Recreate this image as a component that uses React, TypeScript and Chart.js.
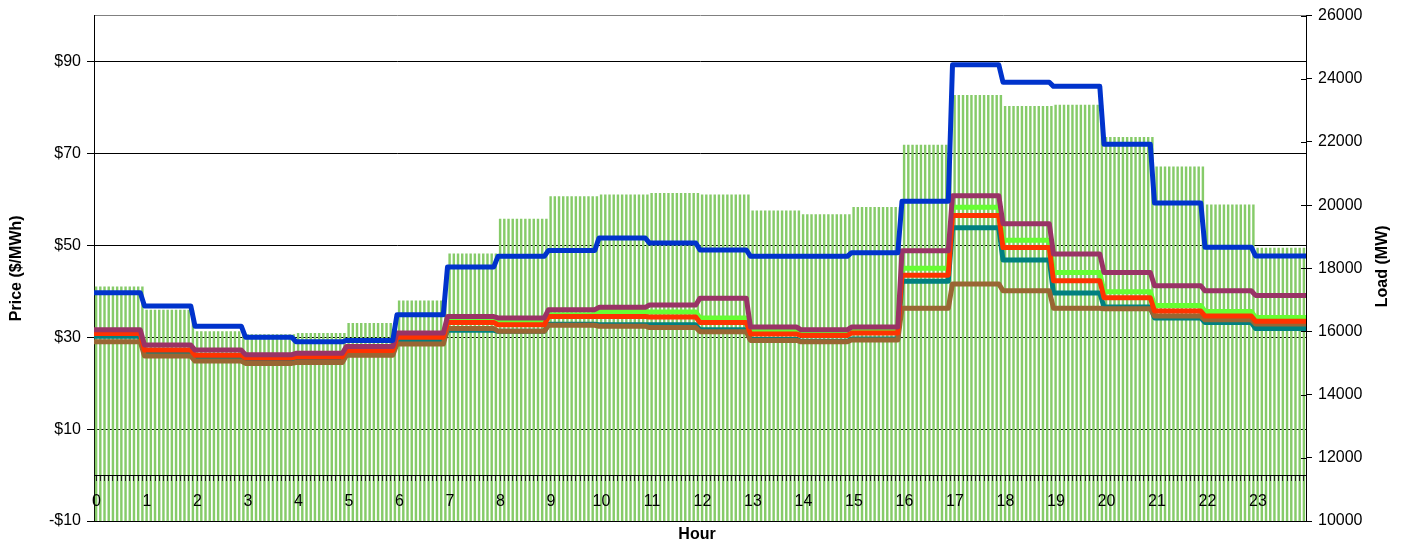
import React, { useEffect, useRef } from 'react';
import { Chart, registerables } from 'chart.js';

Chart.register(...registerables);

// ---- Data ----
const HOURS = [0, 1, 2, 3, 4, 5, 6, 7, 8, 9, 10, 11, 12, 13, 14, 15, 16, 17, 18, 19, 20, 21, 22, 23];
const HOUR_LABELS = ['0', '1', '2', '3', '4', '5', '6', '7', '8', '9', '10', '11', '12', '13', '14', '15', '16', '17', '18', '19', '20', '21', '22', '23'];
const INTERVALS_PER_HOUR = 12;

// Load (MW) – right axis, green bars
const LOAD = [17420, 16690, 16010, 15910, 15950, 16270, 16980, 18470, 19570, 20280, 20340, 20380,
  20340, 19830, 19710, 19940, 21910, 23490, 23140, 23180, 22160, 21220, 20020, 18650];

// Price series ($/MWh) – left axis
const BLUE = [39.7, 36.8, 32.4, 30.0, 29.0, 29.3, 34.9, 45.3, 47.6, 48.9, 51.6, 50.5,
  49.0, 47.6, 47.6, 48.4, 59.6, 89.3, 85.5, 84.6, 72.0, 59.2, 49.6, 47.7];
const PURPLE = [31.6, 28.3, 27.2, 26.2, 26.5, 28.0, 30.9, 34.5, 34.2, 36.0, 36.5, 37.0,
  38.5, 32.2, 31.6, 32.2, 48.8, 60.8, 54.7, 48.1, 44.1, 41.2, 40.1, 39.1];
const RED = [30.8, 27.2, 26.1, 25.5, 25.7, 27.1, 30.0, 33.2, 32.7, 34.5, 34.5, 34.4,
  33.2, 30.7, 30.4, 30.9, 43.5, 56.5, 49.5, 42.3, 38.6, 35.7, 34.6, 33.5];
const GREEN = [30.5, 26.9, 25.9, 25.3, 25.5, 26.9, 29.7, 33.6, 33.3, 34.9, 35.6, 35.5,
  34.2, 31.4, 30.8, 31.4, 45.0, 58.3, 51.1, 44.1, 39.9, 36.9, 35.6, 34.3];
const TEAL = [30.2, 26.7, 25.7, 25.1, 25.3, 26.6, 29.2, 31.5, 31.3, 32.8, 32.7, 32.7,
  31.6, 29.5, 29.1, 29.6, 42.2, 53.8, 46.8, 39.6, 36.6, 34.2, 33.2, 31.9];
const BROWN = [29.0, 25.9, 24.8, 24.3, 24.5, 26.1, 28.5, 31.9, 31.3, 32.6, 32.4, 32.1,
  31.2, 29.3, 29.0, 29.4, 36.3, 41.6, 40.1, 36.3, 36.2, 34.6, 33.8, 32.9];

const PRICE_TICKS = [-10, 10, 30, 50, 70, 90, 100];
const LOAD_MIN = 10000;
const LOAD_MAX = 26000;
const LOAD_STEP = 2000;

const FONT = "'Liberation Sans', Arial, sans-serif";

function stepPoints(vals: number[]) {
  const pts: { x: number; y: number }[] = [];
  vals.forEach((v, i) => {
    const h = HOURS[i];
    pts.push({ x: h, y: v });
    pts.push({ x: i === vals.length - 1 ? h + 1 : h + (INTERVALS_PER_HOUR - 1) / INTERVALS_PER_HOUR, y: v });
  });
  return pts;
}

const titlesPlugin = {
  id: 'customTitles',
  afterDraw(chart: any) {
    const { ctx, chartArea } = chart;
    ctx.save();
    // inner half of the crossing tick marks on the right axis
    const y1 = chart.scales.y1;
    ctx.strokeStyle = '#000';
    ctx.lineWidth = 1;
    y1.ticks.forEach((t: any) => {
      const py = Math.round(y1.getPixelForValue(t.value)) + 0.5;
      ctx.beginPath();
      ctx.moveTo(chartArea.right - 5, py);
      ctx.lineTo(chartArea.right, py);
      ctx.stroke();
    });
    ctx.fillStyle = '#000';
    ctx.font = 'bold 16px ' + FONT;
    ctx.textAlign = 'center';
    ctx.textBaseline = 'middle';
    const cy = (chartArea.top + chartArea.bottom) / 2;
    ctx.fillText('Hour', (chartArea.left + chartArea.right) / 2 - 3, chartArea.bottom + 14);
    ctx.save();
    ctx.translate(17, cy);
    ctx.rotate(-Math.PI / 2);
    ctx.fillText('Price ($/MWh)', 0, 0);
    ctx.restore();
    ctx.save();
    ctx.translate(chartArea.right + 77, cy - 2);
    ctx.rotate(-Math.PI / 2);
    ctx.fillText('Load (MW)', 0, 0);
    ctx.restore();
    ctx.restore();
  },
};

export default function App() {
  const ref = useRef<HTMLCanvasElement>(null);

  useEffect(() => {
    const canvas = ref.current;
    if (!canvas) return;

    const barData: { x: number; y: number }[] = [];
    HOURS.forEach((h, i) => {
      for (let k = 0; k < INTERVALS_PER_HOUR; k++) {
        barData.push({ x: h + (k + 0.5) / INTERVALS_PER_HOUR, y: LOAD[i] });
      }
    });

    const lineDs = (label: string, vals: number[], color: string, order: number) => ({
      type: 'line' as const,
      label,
      data: stepPoints(vals),
      borderColor: color,
      backgroundColor: color,
      borderWidth: 5,
      pointRadius: 0,
      tension: 0,
      borderJoinStyle: 'round' as const,
      borderCapStyle: 'butt' as const,
      fill: false,
      xAxisID: 'x',
      yAxisID: 'y',
      order,
    });

    const totalTicks = HOURS.length * INTERVALS_PER_HOUR;

    const chart = new Chart(canvas, {
      type: 'bar',
      data: {
        datasets: [
          lineDs('Blue', BLUE, '#0033CC', 0),
          lineDs('Purple', PURPLE, '#993366', 1),
          lineDs('Red', RED, '#FF3300', 2),
          lineDs('Brown', BROWN, '#996633', 3),
          lineDs('Teal', TEAL, '#008080', 4),
          lineDs('Green', GREEN, '#66FF33', 5),
          {
            type: 'bar' as const,
            label: 'Load',
            data: barData,
            backgroundColor: '#86CB69',
            borderWidth: 0,
            categoryPercentage: 1,
            barPercentage: 0.58,
            xAxisID: 'x',
            yAxisID: 'y1',
            order: 10,
          },
        ] as any,
      },
      options: {
        responsive: false,
        animation: false,
        layout: { padding: { top: 12, bottom: 25, left: 0, right: 0 } },
        plugins: {
          legend: { display: false },
          tooltip: { enabled: false },
        },
        scales: {
          x: {
            type: 'linear',
            min: 0,
            max: HOURS.length,
            offset: false,
            position: { y: 0 } as any,
            afterBuildTicks: (s: any) => {
              const t = [];
              for (let k = 0; k <= totalTicks; k++) t.push({ value: k / INTERVALS_PER_HOUR });
              s.ticks = t;
            },
            ticks: {
              autoSkip: false,
              maxRotation: 0,
              minRotation: 0,
              padding: 12,
              labelOffset: 2.5,
              color: '#000',
              font: { family: FONT, size: 16 },
              z: 1,
              callback: (_v: any, i: number) =>
                i % INTERVALS_PER_HOUR === 0 && i < totalTicks ? HOUR_LABELS[i / INTERVALS_PER_HOUR] : '',
            },
            grid: { display: true, drawOnChartArea: false, drawTicks: true, tickLength: 5, color: '#222', z: 1 },
            border: { display: true, color: '#000', width: 1, z: 1 },
          },
          y: {
            type: 'linear',
            position: 'left',
            min: -10,
            max: 100,
            afterBuildTicks: (s: any) => {
              s.ticks = PRICE_TICKS.map((v) => ({ value: v }));
            },
            afterFit: (s: any) => {
              s.width = 94;
            },
            ticks: {
              padding: 6,
              color: '#000',
              font: { family: FONT, size: 16 },
              callback: (v: any) => (v === 100 ? '' : v < 0 ? '-$' + Math.abs(v) : '$' + v),
            },
            grid: {
              color: (c: any) => (c.tick && c.tick.value === 100 ? '#808080' : '#000'),
              tickColor: (c: any) => (c.tick && c.tick.value === 100 ? 'rgba(0,0,0,0)' : '#000'),
              tickLength: 7,
              lineWidth: 1,
            },
            border: { display: true, color: '#000', width: 1 },
          },
          y1: {
            type: 'linear',
            position: 'right',
            min: LOAD_MIN,
            max: LOAD_MAX,
            afterFit: (s: any) => {
              s.width = 97;
            },
            ticks: {
              stepSize: LOAD_STEP,
              padding: 6,
              color: '#000',
              font: { family: FONT, size: 16 },
              callback: (v: any) => String(v),
            },
            grid: { drawOnChartArea: false, drawTicks: true, tickLength: 6, color: '#000' },
            border: { display: true, color: '#000', width: 1 },
          },
        },
      } as any,
      plugins: [titlesPlugin],
    });

    return () => {
      chart.destroy();
    };
  }, []);

  return (
    <div style={{ position: 'absolute', left: 0, top: 0, width: 1403, height: 546 }}>
      <canvas ref={ref} width={1403} height={546} style={{ display: 'block', width: 1403, height: 546 }} />
    </div>
  );
}
